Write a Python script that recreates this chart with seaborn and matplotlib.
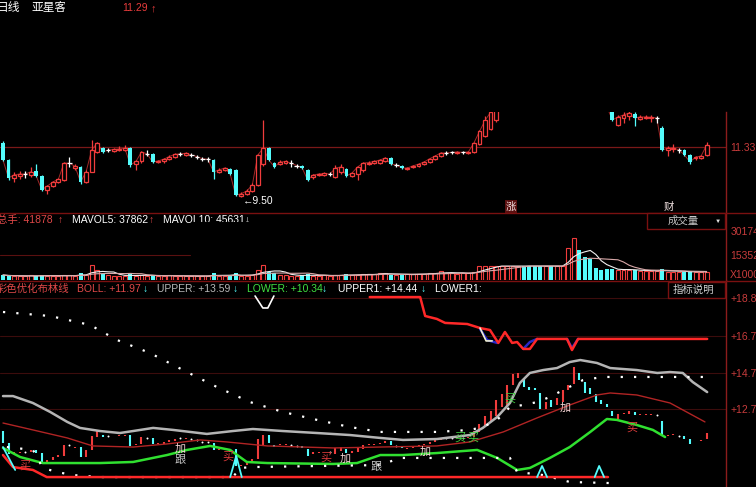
import numpy as np
import pandas as pd
import matplotlib
matplotlib.use('Agg')
import matplotlib.pyplot as plt
from matplotlib.patches import Rectangle
from matplotlib.lines import Line2D
import seaborn as sns

# daily bars, oldest first
opens = [11.48, 10.85, 10.20, 10.27, 10.34, 10.31, 10.45, 10.27, 9.76, 9.90, 10.05, 10.12, 10.74, 10.56,
         10.60, 10.05, 10.42, 11.15, 11.29, 11.22, 11.20, 11.22, 11.22, 11.29, 10.70, 10.80, 11.08, 11.08,
         10.78, 10.80, 10.88, 10.96, 11.08, 11.04, 11.04, 10.98, 10.90, 10.88, 10.85, 10.42, 10.49, 10.52,
         10.49, 9.55, 9.62, 9.72, 9.94, 10.70, 11.29, 10.74, 10.70, 10.74, 10.74, 10.65, 10.65, 10.49,
         10.22, 10.30, 10.31, 10.34, 10.24, 10.40, 10.52, 10.27, 10.34, 10.49, 10.70, 10.74, 10.76, 10.82,
         10.93, 10.67, 10.65, 10.52, 10.58, 10.64, 10.70, 10.78, 10.90, 11.00, 11.11, 11.13, 11.10, 11.13,
         11.10, 11.15, 11.45, 11.75, 12.00, 12.30, 12.80, 12.80, 14.00, 14.40, 14.35, 13.90, 13.85, 13.60,
         12.70, 13.20, 12.90, 13.10, 13.75, 14.10, 14.70, 14.20, 13.85, 13.50, 13.20, 13.00, 12.60, 12.14,
         12.40, 12.45, 12.55, 12.35, 12.39, 12.39, 12.39, 12.03, 11.22, 11.26, 11.22, 11.22, 11.04, 10.93,
         10.93, 11.04]
closes = [10.85, 10.20, 10.31, 10.34, 10.34, 10.42, 10.27, 9.76, 9.90, 10.05, 10.15, 10.74, 10.74, 10.62,
          10.05, 10.42, 11.22, 11.48, 11.15, 11.22, 11.24, 11.26, 11.28, 10.67, 10.80, 11.15, 11.08, 10.78,
          10.82, 10.88, 10.98, 11.06, 11.08, 11.10, 11.04, 10.98, 10.90, 10.88, 10.42, 10.49, 10.56, 10.34,
          9.57, 9.62, 9.72, 9.94, 11.04, 11.29, 10.85, 10.60, 10.78, 10.80, 10.74, 10.65, 10.56, 10.12,
          10.31, 10.34, 10.36, 10.34, 10.56, 10.60, 10.27, 10.38, 10.60, 10.74, 10.76, 10.80, 10.85, 10.93,
          10.70, 10.67, 10.56, 10.56, 10.64, 10.70, 10.78, 10.90, 11.00, 11.11, 11.11, 11.13, 11.15, 11.13,
          11.15, 11.48, 11.90, 12.30, 12.60, 13.20, 13.50, 14.00, 14.60, 14.70, 13.90, 13.75, 13.75, 12.70,
          13.10, 12.80, 13.30, 13.75, 14.00, 15.00, 14.30, 13.60, 13.50, 13.10, 13.00, 12.80, 12.32, 12.43,
          12.50, 12.57, 12.39, 12.43, 12.43, 12.42, 12.39, 11.22, 11.29, 11.30, 11.22, 11.04, 10.78, 10.96,
          11.00, 11.40]
highs = [11.55, 10.88, 10.42, 10.45, 10.45, 10.60, 10.70, 10.30, 9.94, 10.10, 10.20, 10.78, 10.96, 10.70,
         10.63, 10.48, 11.59, 11.52, 11.32, 11.30, 11.30, 11.35, 11.40, 11.33, 10.85, 11.18, 11.22, 11.10,
         10.86, 10.92, 11.02, 11.10, 11.15, 11.14, 11.10, 11.05, 10.98, 10.96, 10.88, 10.55, 10.60, 10.55,
         10.52, 9.68, 9.78, 10.00, 11.08, 12.32, 11.33, 10.78, 10.85, 10.85, 10.85, 10.72, 10.68, 10.52,
         10.34, 10.38, 10.40, 10.42, 10.67, 10.70, 10.55, 10.42, 10.63, 10.78, 10.80, 10.85, 10.90, 10.96,
         10.96, 10.74, 10.68, 10.60, 10.68, 10.74, 10.82, 10.93, 11.04, 11.15, 11.18, 11.20, 11.18, 11.18,
         11.18, 11.52, 11.95, 12.45, 12.75, 13.30, 13.60, 14.10, 14.75, 14.80, 14.40, 13.95, 13.90, 13.65,
         13.20, 13.25, 13.40, 13.80, 14.10, 15.10, 14.75, 14.25, 13.90, 13.55, 13.25, 13.05, 12.65, 12.50,
         12.60, 12.65, 12.60, 12.50, 12.50, 12.50, 12.45, 12.10, 11.35, 11.45, 11.30, 11.25, 11.08, 11.00,
         11.04, 11.50]
lows = [10.80, 10.12, 10.05, 10.15, 10.20, 10.25, 10.22, 9.72, 9.60, 9.85, 10.00, 10.08, 10.60, 10.50,
        9.98, 10.00, 10.40, 11.10, 11.10, 11.15, 11.15, 11.18, 11.18, 10.60, 10.50, 10.75, 11.00, 10.74,
        10.74, 10.76, 10.85, 10.92, 11.00, 11.00, 10.96, 10.90, 10.80, 10.78, 10.15, 10.38, 10.45, 10.30,
        9.55, 9.50, 9.58, 9.68, 9.90, 10.65, 10.80, 10.56, 10.66, 10.70, 10.60, 10.55, 10.52, 10.08,
        10.15, 10.26, 10.28, 10.28, 10.20, 10.35, 10.22, 10.24, 10.12, 10.40, 10.66, 10.70, 10.72, 10.78,
        10.66, 10.60, 10.52, 10.48, 10.55, 10.60, 10.66, 10.74, 10.86, 10.96, 11.04, 11.06, 11.06, 11.08,
        11.06, 11.12, 11.40, 11.70, 11.95, 12.25, 12.70, 12.70, 13.90, 14.30, 13.80, 13.70, 13.65, 12.65,
        12.65, 12.75, 12.85, 13.05, 13.70, 14.00, 14.25, 13.55, 13.45, 13.05, 12.95, 12.75, 12.28, 12.10,
        12.20, 12.30, 12.10, 12.30, 12.35, 12.25, 12.20, 11.18, 11.00, 11.15, 11.10, 11.00, 10.70, 10.85,
        10.88, 11.00]
volumes = [3100, 2500, 2500, 2200, 2500, 2800, 2500, 3100, 2500, 2500, 2500, 2800, 3100, 2500,
           4300, 3100, 9300, 6000, 3700, 3100, 2500, 2500, 2500, 3700, 2500, 3100, 2500, 2800,
           2500, 2500, 2800, 2500, 2500, 2500, 2200, 2500, 2500, 2500, 4300, 2500, 2500, 2800,
           4300, 2500, 2500, 3100, 6200, 9300, 4900, 4300, 3100, 2800, 2500, 2500, 3100, 3700,
           2500, 2500, 2800, 2500, 3100, 3100, 3700, 2800, 3100, 3700, 3700, 3700, 4300, 4300,
           3100, 3100, 3100, 3700, 3700, 3700, 3700, 4300, 4300, 5500, 4300, 4300, 3700, 4300, 4300, 5000,
           8600, 8600, 8600, 8600, 8600, 8600, 8600, 8600, 8600, 8600, 8600, 8600,
           8600, 8600, 8600, 8600, 19700, 26000, 18500, 14000, 13000, 7400, 6200, 6800, 6800,
           6200, 6200, 6200, 6200, 5500, 5500, 5500, 5500, 7000, 5000, 5000, 5000, 4900, 5500, 4900, 4900, 4900]

# indicator lines (bar index, value)
upper_idx = [0, 1.8, 5.4, 8.5, 11.6, 13.9, 17.5, 21.1, 23.5, 27.1, 30.7, 36.8, 41.5, 45.1, 50.5, 56.7, 62.6,
             68.1, 72.2, 78.3, 84.3, 86.6, 89.2, 91.5, 93.3, 95.1, 97.5, 100.0, 102.3, 104.2, 107.2, 109.6,
             114.4, 118.1, 120.4, 122.7, 124.5, 127.1]
upper_val = [13.41, 13.41, 13.03, 12.54, 11.99, 11.66, 11.49, 11.38, 11.49, 11.66, 11.55, 11.33, 11.49, 11.60,
             11.49, 11.38, 11.27, 11.11, 11.00, 11.05, 11.27, 11.66, 12.26, 13.03, 14.13, 14.68, 14.84, 14.95,
             15.28, 15.39, 15.23, 14.95, 14.84, 14.68, 14.73, 14.68, 14.18, 13.63]
mid_idx = [0, 5.4, 11.6, 16.2, 23.5, 29.6, 35.6, 40.4, 47.7, 59.6, 68.1, 78.3, 84.3, 90.3, 96.4, 102.3,
           107.2, 109.6, 114.4, 120.4, 126.7]
mid_val = [11.93, 11.55, 11.11, 10.67, 10.61, 10.78, 11.00, 10.89, 10.67, 10.56, 10.61, 10.67, 10.89, 11.44,
           12.21, 12.92, 13.47, 13.58, 13.47, 13.03, 11.99]
lower_idx = [0, 3.1, 7.2, 11.6, 17.5, 23.5, 29.6, 33.2, 37.4, 41.0, 44.0, 47.7, 59.6, 63.9, 68.1, 72.2,
             78.3, 85.6, 89.2, 92.8, 95.1, 98.7, 102.3, 106.0, 109.0, 110.8, 114.4, 117.3, 119.5]
lower_val = [10.56, 10.06, 9.73, 9.73, 9.73, 9.79, 10.17, 10.45, 10.67, 10.45, 9.79, 9.73, 9.68, 9.73, 10.17,
             10.17, 10.28, 10.45, 10.01, 9.35, 9.46, 10.01, 10.61, 11.44, 12.15, 12.10, 11.82, 11.55, 11.16]
upper1_idx = [0, 8.5, 15.7, 20.6, 26.5, 32.5, 38.6, 44.6, 50.5, 56.7, 62.6, 68.1, 78.3, 84.3, 86.6, 89.2,
              91.5, 93.9, 96.4, 98.7, 101.1, 104.7, 108.3, 127.1]
upper1_val = [18.03, 17.81, 17.32, 16.49, 15.78, 14.84, 13.91, 13.08, 12.54, 12.10, 11.71, 11.44, 11.44, 11.55,
              11.71, 12.10, 12.81, 12.92, 13.08, 13.36, 13.74, 14.29, 14.46, 14.46]
lower1_idx = [0.7, 5.4, 7.2, 9.7, 12.6, 17.5, 41.5, 42.8, 45.1, 68.1, 71.7, 91.5, 92.8, 97.5, 102.3, 109.6]
lower1_val = [10.61, 10.45, 9.46, 9.24, 9.07, 8.96, 8.96, 9.46, 9.51, 9.62, 10.01, 10.01, 9.24, 9.07, 8.69, 8.63]
base_idx = [0, 1.8, 5.4, 7.9, 109.2]
base_val = [10.17, 9.51, 9.35, 8.96, 8.96]
stop_idx = [66.2, 75.3, 76.2, 78.3, 79.8, 83.8, 86.1, 87.9, 89.4, 90.6, 91.9, 92.8, 93.9, 95.1, 96.4, 101.8,
            102.7, 103.8, 127.1]
stop_val = [18.85, 18.85, 17.81, 17.65, 17.43, 17.37, 17.15, 17.04, 16.33, 16.93, 16.33, 16.38, 16.00, 16.00,
            16.55, 16.55, 15.94, 16.55, 16.55]
blue_idx = [86.1, 87.4, 89.2, np.nan, 93.9, 95.1, 96.4, np.nan, 101.8, 102.7, 103.8]
blue_val = [17.10, 16.49, 16.33, np.nan, 16.00, 16.38, 16.55, np.nan, 16.55, 16.05, 16.55]
hook_idx = [86.1, 87.2, 88.3]
hook_val = [17.15, 16.44, 16.44]
notch_idx = [45.5, 46.9, 47.8, 48.9]
notch_val = [18.91, 18.25, 18.25, 18.91]
peak_idx = [0, 2.2, np.nan, 41.0, 42.1, 43.1, np.nan, 96.4, 97.3, 98.2, np.nan, 106.8, 107.6, 108.5]
peak_val = [10.61, 9.35, np.nan, 8.96, 10.12, 8.96, np.nan, 8.96, 9.57, 8.96, np.nan, 8.96, 9.57, 8.96]
signals = [('买', 4.0, 9.57, 'red'), ('加', 32.0, 10.50, 'pink'), ('跟', 32.0, 9.95, 'grey'),
           ('买', 40.6, 10.06, 'red'), ('买', 58.3, 10.01, 'red'), ('加', 61.7, 9.95, 'pink'),
           ('跟', 67.3, 9.57, 'grey'), ('加', 76.2, 10.34, 'pink'), ('买', 82.5, 11.11, 'green'),
           ('买', 84.8, 11.11, 'green'), ('买', 91.5, 13.30, 'green'), ('加', 101.4, 12.75, 'pink'),
           ('买', 113.5, 11.66, 'red')]
ind_ticks = [18.8, 16.7, 14.7, 12.7]
vol_ticks = [30174, 15352, 3700]
vol_labels = ['30174', '15352', 'X1000']

RED = '#f03c3c'
CYAN = '#54fcfc'
DARK = '#8c1c1c'
sig_colors = {'red': '#e03c3c', 'pink': '#f4d4d4', 'grey': '#c8c8c8', 'green': '#40d040'}

sns.set_theme(style='dark', rc={'axes.facecolor': 'black', 'figure.facecolor': 'black',
                                'savefig.facecolor': 'black'})
plt.rcParams['font.family'] = ['Liberation Sans', 'Noto Sans CJK SC', 'DejaVu Sans']
plt.rcParams['axes.unicode_minus'] = False

W, H = 756, 487
fig = plt.figure(figsize=(W / 100, H / 100), dpi=100)


def box(top, bottom):
    return [0, 1 - bottom / H, 726 / W, (bottom - top) / H]


ax_p = fig.add_axes(box(112, 213))
ax_v = fig.add_axes(box(213, 280))
ax_i = fig.add_axes(box(280, 487))

df = pd.DataFrame({'open': opens, 'close': closes, 'high': highs, 'low': lows, 'vol': volumes})
df['i'] = np.arange(len(df))
up = df.close > df.open
down = df.close < df.open
flat = df.close == df.open
body = (df.close - df.open).abs().clip(lower=0.03)
bottom = df[['open', 'close']].min(axis=1)

# candles
ax_p.plot(df.i, df.close, color='#a02828', lw=0.7, zorder=1)
wick_col = np.where(up, RED, np.where(down, CYAN, 'white'))
ax_p.vlines(df.i, df.low, df.high, colors=wick_col, lw=0.9, zorder=2)
ax_p.bar(df.i[up], body[up], bottom=bottom[up], width=0.7, facecolor='black', edgecolor=RED, lw=0.9, zorder=3)
ax_p.bar(df.i[down], body[down], bottom=bottom[down], width=0.7, color=CYAN, lw=0, zorder=3)
ax_p.hlines(df.close[flat], df.i[flat] - 0.4, df.i[flat] + 0.4, colors='white', lw=0.9, zorder=3)
ax_p.axhline(11.33, color='#7a1818', lw=0.9, zorder=0)
ax_p.set_ylim(8.914, 12.611)
ax_p.set_yticks([11.33])
ax_p.set_yticklabels(['11.33'])
ax_p.text(43.3, 9.35, '←9.50', color='white', fontsize=7.5, va='center')
ax_p.text(91.7, 9.15, '涨', color='#f0e0e0', fontsize=7.5, ha='center', va='center',
          bbox=dict(facecolor='#5a1010', edgecolor='none', pad=0.8))
ax_p.text(120.2, 9.15, '财', color='#f0e0e0', fontsize=7.5, ha='center', va='center')

# volume
ax_v.bar(df.i[~down], df.vol[~down], width=0.72, facecolor='black', edgecolor=RED, lw=0.8)
ax_v.bar(df.i[down], df.vol[down], width=0.72, color=CYAN, lw=0)
ma5 = df.vol.rolling(5, min_periods=1).mean()
ma10 = df.vol.rolling(10, min_periods=1).mean()
sns.lineplot(x=df.i, y=ma5, ax=ax_v, color='#f0f0f0', lw=0.8)
sns.lineplot(x=df.i, y=ma10, ax=ax_v, color='#d8a8a8', lw=0.8)
ax_v.axhline(15352, xmax=190 / 726, color='#5a1010', lw=0.8)
ax_v.set_ylim(0, 41339)
ax_v.set_yticks(vol_ticks)
ax_v.set_yticklabels(vol_labels)

# indicator
for t in ind_ticks:
    ax_i.axhline(t, color='#3c0c0c', lw=0.8, zorder=0)
ax_i.vlines(df.i[up], df.open[up], df.close[up], colors=RED, lw=1.5)
ax_i.vlines(df.i[down], df.close[down], df.open[down], colors=CYAN, lw=1.5)
ax_i.scatter(df.i[flat], df.close[flat], s=2, color='white', linewidths=0)
sns.lineplot(x=upper_idx, y=upper_val, ax=ax_i, color='#b4b4b4', lw=1.8, estimator=None, sort=False)
sns.lineplot(x=mid_idx, y=mid_val, ax=ax_i, color='#b02424', lw=1.0, estimator=None, sort=False)
sns.lineplot(x=lower_idx, y=lower_val, ax=ax_i, color='#30e030', lw=1.8, estimator=None, sort=False)
sns.lineplot(x=upper1_idx, y=upper1_val, ax=ax_i, color='white', lw=1.6, linestyle=(0, (1, 5)),
             estimator=None, sort=False)
sns.lineplot(x=lower1_idx, y=lower1_val, ax=ax_i, color='white', lw=1.6, linestyle=(0, (1, 5)),
             estimator=None, sort=False)
sns.lineplot(x=base_idx, y=base_val, ax=ax_i, color='#ff2828', lw=1.8, estimator=None, sort=False)
ax_i.plot(blue_idx, blue_val, color='#2828c8', lw=1.8)
sns.lineplot(x=stop_idx, y=stop_val, ax=ax_i, color='#ff2828', lw=1.8, estimator=None, sort=False)
sns.lineplot(x=hook_idx, y=hook_val, ax=ax_i, color='#f0f0d0', lw=1.2, estimator=None, sort=False)
sns.lineplot(x=notch_idx, y=notch_val, ax=ax_i, color='white', lw=1.2, estimator=None, sort=False)
ax_i.plot(peak_idx, peak_val, color=CYAN, lw=1.3)
for s, xi, yv, c in signals:
    ax_i.text(xi, yv, s, color=sig_colors[c], fontsize=8, ha='center', va='center')
ax_i.set_ylim(8.414, 19.788)
ax_i.set_yticks(ind_ticks)
ax_i.set_yticklabels(['+%.1f' % t for t in ind_ticks])

for ax in (ax_p, ax_v, ax_i):
    ax.set_xlim(-0.54, 130.5)
    ax.set_xticks([])
    ax.set_xlabel('')
    ax.set_ylabel('')
    ax.yaxis.tick_right()
    ax.tick_params(axis='y', length=0, pad=3, labelsize=7.5, labelcolor='#c83c3c')
    ax.grid(False)
    for side in ('left', 'top', 'bottom'):
        ax.spines[side].set_visible(False)
    ax.spines['right'].set_color(DARK)
    ax.spines['right'].set_linewidth(1.0)

# panel separators
for yy in (213, 280.5):
    fig.add_artist(Line2D([0, 1], [1 - yy / H] * 2, transform=fig.transFigure, color='#7a1010', lw=1.0))


def ftext(x, y, s, color, size=7.5, **kw):
    return fig.text(x / W, 1 - y / H, s, color=color, fontsize=size, va='center', ha='left', **kw)


# title row
ftext(-3, 8, '日线', 'white', 8.5)
ftext(31, 8, '亚星客车', 'white', 8.5)
fig.add_artist(Rectangle((65 / W, 1 - 16 / H), 50 / W, 16 / H, transform=fig.transFigure,
                         facecolor='black', edgecolor='none', zorder=5))
ftext(122, 8, '11.29', '#e83c3c', 7.5)
ftext(151, 8, '↑', '#e83c3c', 8)

# volume header
ftext(-3, 220, '总手: 41878', '#e04848')
ftext(58, 220, '↑', '#e04848')
ftext(72, 220, 'MAVOL5: 37862', 'white')
ftext(149, 220, '↑', '#e04848')
ftext(163, 220, 'MAVOL10: 45631↓', 'white')
fig.add_artist(Rectangle((192 / W, 1 - 232 / H), 80 / W, 10 / H, transform=fig.transFigure,
                         facecolor='black', edgecolor='none', zorder=5))
fig.add_artist(Rectangle((647 / W, 1 - 229 / H), 78 / W, 16 / H, transform=fig.transFigure,
                         facecolor='black', edgecolor='#7a1010', lw=1.0, zorder=4))
ftext(668, 221, '成交量', '#c8c8c8', 7.5, zorder=6)
ftext(715, 221, '▼', '#e0e0e0', 4.5, zorder=6)

# indicator header
ftext(-3, 289, '彩色优化布林线', '#e04848')
ftext(77, 289, 'BOLL: +11.97', '#e04848')
ftext(143, 289, '↓', CYAN)
ftext(157, 289, 'UPPER: +13.59', '#b8b8b8')
ftext(233, 289, '↓', CYAN)
ftext(247, 289, 'LOWER: +10.34', '#40e040')
ftext(322, 289, '↓', CYAN)
ftext(338, 289, 'UPPER1: +14.44', 'white')
ftext(421, 289, '↓', CYAN)
ftext(435, 289, 'LOWER1: ', 'white')
fig.add_artist(Rectangle((668 / W, 1 - 298 / H), 57 / W, 16 / H, transform=fig.transFigure,
                         facecolor='black', edgecolor='#7a1010', lw=1.0, zorder=4))
ftext(673, 290, '指标说明', '#d0d0d0', 7.5, zorder=6)

fig.savefig('out.png', dpi=100, facecolor='black')
